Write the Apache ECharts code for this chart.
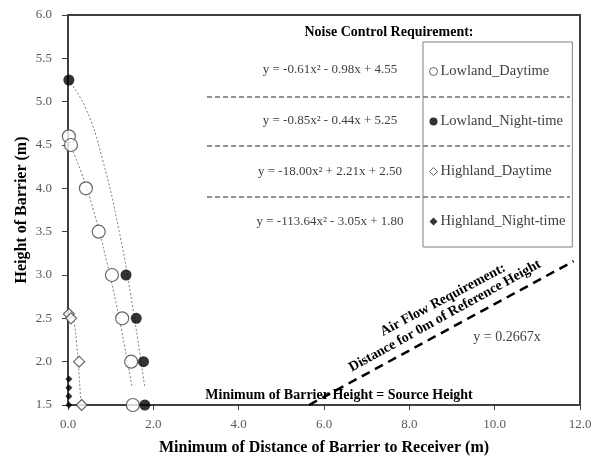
<!DOCTYPE html>
<html>
<head>
<meta charset="utf-8">
<script src="https://cdn.jsdelivr.net/npm/echarts@6/dist/echarts.min.js"></script>
<style>html,body{margin:0;padding:0;background:#fff;}#c{width:595px;height:461px;}</style>
</head>
<body>
<div id="c"></div>
<script>
// ---- data ----
const xTicks = [0, 2, 4, 6, 8, 10, 12];
const yTicks = [1.5, 2.0, 2.5, 3.0, 3.5, 4.0, 4.5, 5.0, 5.5, 6.0];

const seriesNames = ['Lowland_Daytime', 'Lowland_Night-time', 'Highland_Daytime', 'Highland_Night-time'];

const ldX = [0.02, 0.07, 0.42, 0.72, 1.03, 1.27, 1.48, 1.52];
const ldY = [4.60, 4.50, 4.00, 3.50, 3.00, 2.50, 2.00, 1.50];
const lnX = [0.02, 1.36, 1.60, 1.77, 1.80];
const lnY = [5.25, 3.00, 2.50, 2.00, 1.50];
const hdX = [0.02, 0.07, 0.26, 0.32];
const hdY = [2.55, 2.50, 2.00, 1.50];
const hnX = [0.02, 0.02, 0.02, 0.02];
const hnY = [1.80, 1.70, 1.60, 1.50];

// trendlines (dotted), points
const ldTrendX = [0.00, 0.30, 0.60, 0.90, 1.20, 1.50];
const ldTrendY = [4.55, 4.20, 3.74, 3.17, 2.50, 1.71];
const lnTrendX = [0.00, 0.40, 0.80, 1.20, 1.50, 1.80];
const lnTrendY = [5.25, 4.94, 4.35, 3.50, 2.68, 1.70];
const hdTrendX = [0.00, 0.05, 0.10, 0.15, 0.20, 0.25, 0.30, 0.31];
const hdTrendY = [2.50, 2.57, 2.54, 2.43, 2.22, 1.93, 1.54, 1.50];

// air flow requirement line y = 0.2667x
const airX = [5.65, 11.85];
const airY = [1.50, 3.16];

const equations = [
  'y = -0.61x\u00B2 - 0.98x + 4.55',
  'y = -0.85x\u00B2 - 0.44x + 5.25',
  'y = -18.00x\u00B2 + 2.21x + 2.50',
  'y = -113.64x\u00B2 - 3.05x + 1.80'
];

const zip = (xs, ys) => xs.map((x, i) => [x, ys[i]]);
const SERIF = '"Liberation Serif", "Times New Roman", serif';
const DARK = '#404040';

const chart = echarts.init(document.getElementById('c'), null, {renderer: 'canvas'});

const eqY = [70, 121, 172, 222];
const sepY = [97, 146, 197];
const graphics = [];
graphics.push({type: 'text', x: 389, y: 32, style: {text: 'Noise Control Requirement:', font: 'bold 14px ' + SERIF, fill: '#000', align: 'center', verticalAlign: 'middle'}});
equations.forEach((t, i) => graphics.push({type: 'text', x: 330, y: eqY[i], style: {text: t, font: '13px ' + SERIF, fill: DARK, align: 'center', verticalAlign: 'middle'}}));
sepY.forEach(y => graphics.push({type: 'line', shape: {x1: 207, y1: y, x2: 570, y2: y}, style: {stroke: '#222', lineWidth: 1, lineDash: [5, 3]}}));
graphics.push({type: 'text', x: 443, y: 300, rotation: 28 * Math.PI / 180, style: {text: 'Air Flow Requirement:', font: 'bold 14px ' + SERIF, fill: '#000', align: 'center', verticalAlign: 'middle'}});
graphics.push({type: 'text', x: 445, y: 316, rotation: 29 * Math.PI / 180, style: {text: 'Distance for 0m of Reference Height', font: 'bold 14px ' + SERIF, fill: '#000', align: 'center', verticalAlign: 'middle'}});
graphics.push({type: 'text', x: 507, y: 337, style: {text: 'y = 0.2667x', font: '14px ' + SERIF, fill: DARK, align: 'center', verticalAlign: 'middle'}});
graphics.push({type: 'text', x: 339, y: 395, style: {text: 'Minimum of Barrier Height = Source Height', font: 'bold 14px ' + SERIF, fill: '#000', align: 'center', verticalAlign: 'middle'}});

const trendStyle = {color: '#808080', width: 1, type: [2, 2]};

const option = {
  backgroundColor: '#fff',
  animation: false,
  textStyle: {fontFamily: SERIF},
  grid: {left: 68, right: 15, top: 15, bottom: 55, show: true, borderColor: DARK, borderWidth: 2, backgroundColor: 'transparent'},
  xAxis: {
    type: 'value', min: 0, max: 12, interval: 2,
    name: 'Minimum of Distance of Barrier to Receiver (m)',
    nameLocation: 'middle', nameGap: 35, nameMoveOverlap: false,
    nameTextStyle: {fontFamily: SERIF, fontWeight: 'bold', fontSize: 16, color: '#000'},
    axisLine: {show: true, onZero: false, lineStyle: {color: DARK, width: 2}},
    axisTick: {show: true, inside: false, length: 5, lineStyle: {color: DARK}},
    axisLabel: {fontFamily: SERIF, fontSize: 13, color: '#595959', margin: 13, formatter: v => v.toFixed(1)},
    splitLine: {show: false}
  },
  yAxis: {
    type: 'value', min: 1.5, max: 6, interval: 0.5,
    name: 'Height of Barrier (m)',
    nameLocation: 'middle', nameGap: 38, nameMoveOverlap: false,
    nameTextStyle: {fontFamily: SERIF, fontWeight: 'bold', fontSize: 16, color: '#000'},
    axisLine: {show: true, onZero: false, lineStyle: {color: DARK, width: 2}},
    axisTick: {show: true, inside: false, length: 6, lineStyle: {color: DARK}},
    axisLabel: {fontFamily: SERIF, fontSize: 13, color: '#595959', margin: 16, formatter: v => v.toFixed(1)},
    splitLine: {show: false}
  },
  legend: {
    orient: 'vertical', left: 423, top: 42,
    selectedMode: false,
    itemWidth: 8, itemHeight: 8, itemGap: 35,
    borderColor: '#808080', borderWidth: 1,
    padding: [22, 7, 18, 6],
    textStyle: {fontFamily: SERIF, fontSize: 14.5, color: DARK, padding: [0, 0, 0, -2]},
    data: [
      {name: seriesNames[0], icon: 'circle', itemStyle: {color: '#fff', borderColor: DARK, borderWidth: 1}},
      {name: seriesNames[1], icon: 'circle', itemStyle: {color: '#000', borderColor: '#000', borderWidth: 0}},
      {name: seriesNames[2], icon: 'diamond', itemStyle: {color: '#fff', borderColor: DARK, borderWidth: 1}},
      {name: seriesNames[3], icon: 'diamond', itemStyle: {color: '#000', borderColor: '#000', borderWidth: 0}}
    ]
  },
  graphic: graphics,
  series: [
    {type: 'line', name: 'trend_ld', data: zip(ldTrendX, ldTrendY), symbol: 'none', smooth: true, lineStyle: trendStyle, z: 1, silent: true},
    {type: 'line', name: 'trend_ln', data: zip(lnTrendX, lnTrendY), symbol: 'none', smooth: true, lineStyle: trendStyle, z: 1, silent: true},
    {type: 'line', name: 'trend_hd', data: zip(hdTrendX, hdTrendY), symbol: 'none', smooth: true, lineStyle: trendStyle, z: 1, silent: true},
    {type: 'line', name: 'airflow', data: zip(airX, airY), symbol: 'none', lineStyle: {color: '#000', width: 2.5, type: [9, 6]}, z: 1, silent: true},
    {type: 'scatter', name: seriesNames[0], data: zip(ldX, ldY), symbol: 'circle', symbolSize: 13, itemStyle: {color: '#fff', borderColor: DARK, borderWidth: 1.2}, z: 3},
    {type: 'scatter', name: seriesNames[1], data: zip(lnX, lnY), symbol: 'circle', symbolSize: 11, itemStyle: {color: '#000'}, z: 3},
    {type: 'scatter', name: seriesNames[2], data: zip(hdX, hdY), symbol: 'diamond', symbolSize: 11, itemStyle: {color: '#fff', borderColor: DARK, borderWidth: 1.2}, z: 3},
    {type: 'scatter', name: seriesNames[3], data: zip(hnX, hnY), symbol: 'diamond', symbolSize: 7, itemStyle: {color: '#000'}, z: 3}
  ]
};
chart.setOption(option);
</script>
</body>
</html>
